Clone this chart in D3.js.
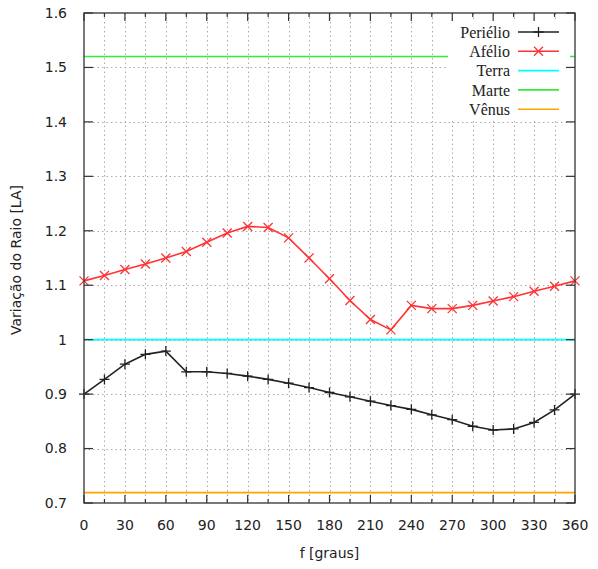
<!DOCTYPE html>
<html lang="pt">
<head>
<meta charset="utf-8">
<title>Variação do Raio</title>
<script src="https://d3js.org/d3.v7.min.js"></script>
<style>
  body { margin: 0; background: #fff; }
  text { font-family: "DejaVu Sans", sans-serif; fill: #222; }
</style>
</head>
<body>
<script>
// data
var angles = [0, 15, 30, 45, 60, 75, 90, 105, 120, 135, 150, 165, 180,
              195, 210, 225, 240, 255, 270, 285, 300, 315, 330, 345, 360];
var perihelio = [0.900, 0.927, 0.955, 0.973, 0.979, 0.941, 0.941, 0.938, 0.933, 0.927,
                 0.920, 0.912, 0.903, 0.895, 0.887, 0.879, 0.872, 0.862, 0.853, 0.841,
                 0.834, 0.836, 0.848, 0.871, 0.900];
var afelio = [1.108, 1.118, 1.129, 1.139, 1.150, 1.162, 1.179, 1.196, 1.208, 1.206,
              1.187, 1.150, 1.112, 1.072, 1.037, 1.018, 1.063, 1.057, 1.057, 1.063,
              1.071, 1.079, 1.089, 1.098, 1.108];
var planets = ["Terra", "Marte", "Vênus"];
var planetRadius = [1.000, 1.520, 0.719];
var xTicks = [0, 30, 60, 90, 120, 150, 180, 210, 240, 270, 300, 330, 360];
var yTicks = [0.7, 0.8, 0.9, 1.0, 1.1, 1.2, 1.3, 1.4, 1.5, 1.6];

var W = 598, H = 569;
var pLeft = 84, pRight = 575, pTop = 13, pBottom = 503;

var svg = d3.select("body").append("svg")
    .attr("width", W).attr("height", H);

var x = d3.scaleLinear().domain([0, 360]).range([pLeft, pRight]);
var y = d3.scaleLinear().domain([0.7, 1.6]).range([pBottom, pTop]);

// grid (every 15 degrees, every 0.1 LA)
var grid = svg.append("g")
    .attr("stroke", "#aaa").attr("stroke-width", 1)
    .attr("stroke-dasharray", "1.5,3");
grid.selectAll(".gx").data(angles.slice(1, -1)).enter().append("line")
    .attr("x1", function(d) { return Math.round(x(d)) + 0.5; })
    .attr("x2", function(d) { return Math.round(x(d)) + 0.5; })
    .attr("y1", pTop).attr("y2", pBottom);
grid.selectAll(".gy").data(yTicks.slice(1, -1)).enter().append("line")
    .attr("y1", function(d) { return Math.round(y(d)) + 0.5; })
    .attr("y2", function(d) { return Math.round(y(d)) + 0.5; })
    .attr("x1", pLeft).attr("x2", pRight);

// planet orbits
var planetColor = d3.scaleOrdinal().domain(planets).range(["#00ffff", "#33ee33", "#ffa500"]);
svg.append("g").selectAll("line").data(planets).enter().append("line")
    .attr("x1", x(0)).attr("x2", x(360))
    .attr("y1", function(d, i) { return y(planetRadius[i]); })
    .attr("y2", function(d, i) { return y(planetRadius[i]); })
    .attr("stroke", function(d) { return planetColor(d); })
    .attr("stroke-width", 1.6);

var line = d3.line()
    .x(function(d) { return x(d[0]); })
    .y(function(d) { return y(d[1]); });

function series(vals, color, marker) {
  var pts = angles.map(function(a, i) { return [a, vals[i]]; });
  var g = svg.append("g");
  g.append("path").datum(pts)
      .attr("d", line)
      .attr("fill", "none")
      .attr("stroke", color).attr("stroke-width", 1.6);
  g.selectAll("path.m").data(pts).enter().append("path")
      .attr("class", "m")
      .attr("d", function(d) { return marker(x(d[0]), y(d[1])); })
      .attr("stroke", color).attr("stroke-width", 1.3).attr("fill", "none");
}
function plus(cx, cy) {
  var s = 5;
  return "M" + (cx - s) + "," + cy + "H" + (cx + s) + "M" + cx + "," + (cy - s) + "V" + (cy + s);
}
function cross(cx, cy) {
  var s = 4.5;
  return "M" + (cx - s) + "," + (cy - s) + "L" + (cx + s) + "," + (cy + s) +
         "M" + (cx - s) + "," + (cy + s) + "L" + (cx + s) + "," + (cy - s);
}
series(perihelio, "#222", plus);
series(afelio, "#ff3333", cross);

// legend box
var legend = svg.append("g");
legend.append("rect")
    .attr("x", 448).attr("y", 20).attr("width", 122).attr("height", 98)
    .attr("fill", "#fff");
var legItems = ["Periélio", "Afélio"].concat(planets);
var legColors = ["#222", "#ff3333"].concat(planets.map(planetColor));
legItems.forEach(function(name, i) {
  var ly = 32 + i * 19.3;
  legend.append("text")
      .attr("x", 510).attr("y", ly).attr("dy", "0.35em")
      .attr("text-anchor", "end")
      .style("font-family", "'Liberation Serif', serif")
      .style("font-size", "16px")
      .text(name);
  legend.append("line")
      .attr("x1", 518).attr("x2", 559).attr("y1", ly).attr("y2", ly)
      .attr("stroke", legColors[i]).attr("stroke-width", 1.6);
  if (i === 0) legend.append("path").attr("d", plus(538.5, ly)).attr("stroke", legColors[i]).attr("stroke-width", 1.3);
  if (i === 1) legend.append("path").attr("d", cross(538.5, ly)).attr("stroke", legColors[i]).attr("stroke-width", 1.3);
});

// border
svg.append("rect")
    .attr("x", pLeft).attr("y", pTop)
    .attr("width", pRight - pLeft).attr("height", pBottom - pTop)
    .attr("fill", "none").attr("stroke", "#333").attr("stroke-width", 1.3);

// ticks, pointing inward on all four sides
var tk = svg.append("g").attr("stroke", "#333").attr("stroke-width", 1.2);
angles.forEach(function(d) {
  var len = (d % 30 === 0) ? 8 : 4;
  var px = x(d);
  tk.append("line").attr("x1", px).attr("x2", px).attr("y1", pBottom).attr("y2", pBottom - len);
  tk.append("line").attr("x1", px).attr("x2", px).attr("y1", pTop).attr("y2", pTop + len);
});
yTicks.forEach(function(d) {
  var py = y(d);
  tk.append("line").attr("x1", pLeft).attr("x2", pLeft + 9).attr("y1", py).attr("y2", py);
  tk.append("line").attr("x1", pRight).attr("x2", pRight - 9).attr("y1", py).attr("y2", py);
});

// tick labels
svg.append("g").selectAll("text").data(xTicks).enter().append("text")
    .attr("x", function(d) { return x(d); })
    .attr("y", 530)
    .attr("text-anchor", "middle")
    .style("font-size", "14px")
    .text(function(d) { return d; });
svg.append("g").selectAll("text").data(yTicks).enter().append("text")
    .attr("x", 67)
    .attr("y", function(d) { return y(d); })
    .attr("dy", "0.35em")
    .attr("text-anchor", "end")
    .style("font-size", "14px")
    .text(function(d) { return d === 1 ? "1" : d3.format(".1f")(d); });

// axis titles
svg.append("text")
    .attr("x", (pLeft + pRight) / 2).attr("y", 558)
    .attr("text-anchor", "middle")
    .style("font-size", "14px")
    .text("f [graus]");
svg.append("text")
    .attr("transform", "translate(21," + ((pTop + pBottom) / 2 + 2) + ") rotate(-90)")
    .attr("text-anchor", "middle")
    .style("font-size", "14px")
    .text("Variação do Raio [LA]");
</script>
</body>
</html>
